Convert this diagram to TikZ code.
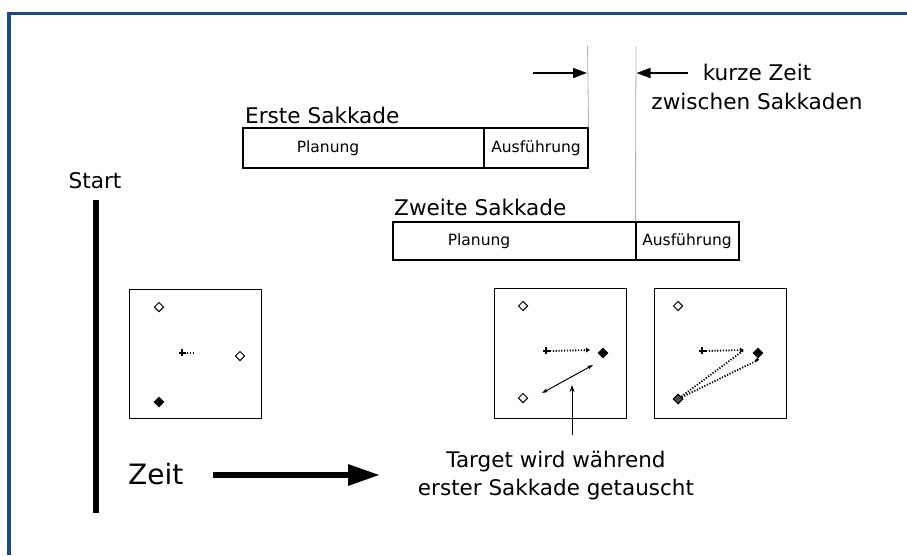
\documentclass[tikz,border=0pt]{standalone}
\usepackage{fontspec}
\setmainfont{DejaVu Sans}
\usetikzlibrary{arrows.meta,shapes.geometric,calc}
\definecolor{framecol}{RGB}{31,74,128}
\begin{document}
\begin{tikzpicture}[x=1pt,y=-1pt,
  lbl/.style={inner sep=0pt,font=\fontsize{21.6}{29}\selectfont},
  small/.style={inner sep=0pt,font=\fontsize{15.5}{18}\selectfont},
  phase/.style={draw,line width=1.2pt,inner sep=0pt},
  panel/.style={draw,line width=1pt,inner sep=0pt,minimum width=132pt,minimum height=129pt},
  opendmd/.style={diamond,draw,line width=1pt,fill=white,inner sep=0pt,minimum size=9.5pt},
  fulldmd/.style={diamond,fill=black,inner sep=0pt,minimum size=11pt},
  guide/.style={draw=black!30,line width=0.8pt},
  gaparrow/.style={line width=1.8pt,-{Triangle[length=14pt,width=10pt]}},
  track/.style={line width=1.8pt,dash pattern=on 1.2pt off 1.6pt},
]
\useasboundingbox (0,0) rectangle (907,555);
% frame
\draw[framecol,line width=3.5pt] (907,13.5) -- (8.75,13.5) -- (8.75,555);

% time axis
\node[lbl,anchor=base] (start) at (95,188) {Start};
\coordinate (axtop) at (96,200);
\coordinate (axbot) at (96,513);
\draw[line width=6pt] (axtop) -- (axbot);

% first saccade
\node[lbl,anchor=base west] (l1) at (245,123) {Erste Sakkade};
\node[phase,minimum width=241pt,minimum height=40pt] (p1) at (363.5,148) {};
\node[phase,minimum width=104pt,minimum height=40pt] (e1) at (536,148) {};
\node[small] at (328,148) {Planung};
\node[small] at (536,148) {Ausführung};

% second saccade
\node[lbl,anchor=base west] (l2) at (394,215) {Zweite Sakkade};
\node[phase,minimum width=243pt,minimum height=38pt] (p2) at (514.5,241) {};
\node[phase,minimum width=103pt,minimum height=38pt] (e2) at (687.5,241) {};
\node[small] at (479,241) {Planung};
\node[small] at (687,241) {Ausführung};

% gap between the saccades
\coordinate (g1) at (587.5,46);
\coordinate (g2) at (636,46);
\draw[guide] (g1) -- (e1.north east);
\draw[guide] (g2) -- (e2.north west);
\coordinate (a1) at (533,73);
\coordinate (a1e) at (587,73);
\coordinate (a2) at (688,73);
\coordinate (a2e) at (636.5,73);
\draw[gaparrow] (a1) -- (a1e);
\draw[gaparrow] (a2) -- (a2e);
\node[lbl,align=center,anchor=north] (gap) at (757,64) {kurze Zeit\\zwischen Sakkaden};

% panel 1
\node[panel] (s1) at (195,353.5) {};
\node[opendmd] (s1a) at (159,307) {};
\node[opendmd] (s1b) at (240,356) {};
\node[fulldmd] (s1c) at (159,402) {};
\coordinate (f1) at (183,353);
\draw[line width=1.4pt] ($(f1)+(-4,0)$) -- ($(f1)+(3,0)$) ($(f1)+(-1,-4)$) -- ($(f1)+(-1,3)$);
\draw[track] ($(f1)+(4,0)$) -- ($(f1)+(12,0)$);

% panel 2
\node[panel,minimum height=130pt] (s2) at (560.5,353) {};
\node[opendmd] (s2a) at (523,306) {};
\node[opendmd] (s2b) at (523,398) {};
\node[fulldmd] (s2c) at (603,353) {};
\coordinate (f2) at (547,351);
\coordinate (f2e) at (590,350);
\draw[line width=1.4pt] ($(f2)+(-4,0)$) -- ($(f2)+(3,0)$) ($(f2)+(-1,-4)$) -- ($(f2)+(-1,3)$);
\draw[track,-{Triangle[length=4pt,width=4.5pt]}] ($(f2)+(3,0)$) -- (f2e);
\coordinate (sw1) at (542,393);
\coordinate (sw2) at (593,365);
\draw[line width=1pt,{Stealth[length=6pt,width=4pt]}-{Stealth[length=6pt,width=4pt]}] (sw1) -- (sw2);

% panel 3
\node[panel,minimum height=130pt] (s3) at (720,353) {};
\node[opendmd] (s3a) at (678,306) {};
\node[fulldmd] (s3c) at (758,353) {};
\coordinate (f3) at (703,351);
\coordinate (f3e) at (744,350);
\coordinate (f3t) at (756,361);
\draw[line width=1.4pt] ($(f3)+(-4,0)$) -- ($(f3)+(3,0)$) ($(f3)+(-1,-4)$) -- ($(f3)+(-1,3)$);
\draw[track,-{Triangle[length=4pt,width=4.5pt]}] ($(f3)+(3,0)$) -- (f3e);
\node[diamond,draw,fill=black!70,line width=1pt,inner sep=0pt,minimum size=10pt] (s3b) at (678,399) {};
\draw[track] (s3b) -- (f3e);
\draw[track] (s3b) -- (f3t);
\draw[line width=2.5pt] (f3t) -- (s3c.south);

% time arrow
\node[inner sep=0pt,anchor=base west,font=\fontsize{28}{32}\selectfont] (zeit) at (128,484) {Zeit};
\coordinate (t1) at (213,475);
\coordinate (t2) at (380,475);
\draw[line width=6pt,-{Triangle[length=32pt,width=20pt]}] (t1) -- (t2);

% caption of the swap
\node[inner sep=0pt,align=center,anchor=north,font=\fontsize{21.5}{28}\selectfont] (swap) at (556,451) {Target wird während\\erster Sakkade getauscht};
\coordinate (ptr) at (572,385);
\coordinate (ptrb) at (572,435);
\draw[line width=1pt,-{Stealth[length=7pt,width=5pt]}] (ptrb) -- (ptr);
\end{tikzpicture}
\end{document}
